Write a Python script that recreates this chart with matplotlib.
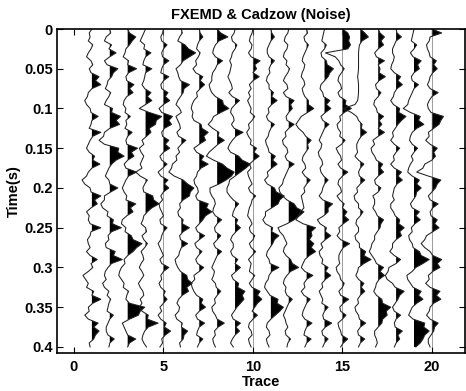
import numpy as np
import matplotlib.pyplot as plt
from matplotlib.ticker import FormatStrFormatter

plt.rcParams['font.family'] = ['Liberation Sans', 'DejaVu Sans']
plt.rcParams['font.weight'] = 'bold'
plt.rcParams['font.size'] = 10.5

# sample times in seconds (5 ms sampling, 0 - 0.4 s)
time = np.round(np.arange(81) * 0.005, 3)

# amplitudes in units of trace spacing.
# *_a: samples at 0, 10, 20 ... ms ; *_b: samples at 5, 15, 25 ... ms
trace_01_a = [0.0, -0.1, 0.05, -0.2, -0.05, -0.15, 0.4, 0.5, -0.2, -0.4,
              -0.1, 0.35, -0.05, 0.5, -0.1, -0.3, 0.15, 0.45, -0.2, -0.55,
              -0.1, 0.5, 0.3, -0.3, -0.2, 0.5, -0.1, -0.2, -0.3, 0.3,
              0.05, -0.5, -0.2, 0.1, 0.5, -0.2, -0.4, 0.35, 0.4, 0.1, -0.1]
trace_01_b = [-0.15, -0.2, -0.05, -0.3, 0.05, -0.05, 0.2, 0.0, -0.25, -0.3,
              -0.05, 0.0, -0.15, 0.05, -0.2, -0.15, 0.05, 0.0, -0.3, -0.4,
              -0.05, 0.15, -0.05, -0.15, -0.1, -0.05, -0.25, -0.1, -0.1, -0.05,
              -0.2, -0.35, -0.3, 0.0, 0.05, -0.15, -0.2, 0.1, 0.2, -0.15]
trace_02_a = [0.0, -0.2, 0.1, 0.35, -0.3, 0.45, 0.1, -0.15, 0.05, -0.2,
              0.15, 0.6, 0.55, -0.3, -0.6, 0.5, 0.8, 0.1, -0.15, -0.05,
              0.45, -0.3, -0.5, -0.1, 0.2, 0.65, -0.1, -0.25, 0.3, 0.7,
              -0.1, -0.3, -0.4, -0.05, 0.05, -0.1, 0.2, -0.1, -0.2, 0.25, -0.05]
trace_02_b = [0.05, -0.3, -0.05, 0.0, -0.15, 0.2, -0.1, -0.25, -0.05, -0.3,
              0.1, 0.35, 0.0, -0.35, -0.3, 0.45, 0.35, -0.05, -0.25, 0.0,
              0.05, -0.3, -0.4, -0.15, 0.15, 0.1, -0.05, -0.2, 0.2, 0.1,
              -0.25, -0.2, -0.3, -0.15, -0.05, -0.15, 0.0, -0.2, -0.1, 0.0]
trace_03_a = [0.0, 0.45, 0.1, -0.15, 0.05, 0.5, -0.1, 0.35, 0.3, -0.2,
              -0.1, 0.15, -0.05, 0.25, -0.1, 0.55, 0.35, -0.2, 0.5, -0.1,
              -0.3, -0.05, 0.45, 0.3, -0.3, -0.1, 0.2, 0.8, 0.3, -0.2,
              -0.35, -0.5, -0.2, 0.05, -0.1, 0.95, 0.6, -0.3, -0.1, 0.45, 0.0]
trace_03_b = [0.1, 0.25, -0.1, -0.25, 0.0, 0.05, -0.05, 0.1, -0.05, -0.25,
              -0.15, -0.1, -0.15, 0.0, -0.05, 0.2, 0.0, -0.1, 0.05, -0.2,
              -0.2, -0.1, 0.15, -0.05, -0.35, -0.15, 0.3, 0.5, 0.0, -0.15,
              -0.45, -0.35, -0.25, -0.05, 0.1, 0.7, 0.1, -0.2, 0.0, 0.1]
trace_04_a = [0.0, -0.2, -0.05, 0.3, -0.1, 0.35, -0.05, -0.2, 0.3, 0.35,
              -0.35, 0.9, 0.55, 0.3, -0.2, -0.35, -0.1, -0.3, -0.55, 0.1,
              -0.15, 0.4, 0.75, 0.1, -0.15, 0.0, -0.2, 0.1, -0.25, -0.1,
              -0.35, -0.1, -0.4, -0.15, -0.3, -0.35, 0.15, 0.7, -0.05, -0.2, 0.05]
trace_04_b = [-0.1, -0.3, -0.1, 0.0, -0.15, 0.0, -0.1, -0.05, 0.1, 0.0,
              0.2, 0.6, 0.2, 0.05, -0.1, -0.25, -0.2, -0.2, -0.3, -0.05,
              -0.1, 0.45, 0.35, -0.1, -0.25, 0.05, -0.1, -0.05, -0.15, -0.25,
              -0.2, -0.25, -0.3, -0.1, -0.2, -0.2, 0.1, 0.15, -0.15, -0.1]
trace_05_a = [0.0, -0.15, 0.2, -0.1, 0.3, -0.1, 0.3, -0.15, 0.25, 0.35,
              -0.25, 0.5, 0.45, -0.1, 0.3, 0.35, -0.2, 0.2, -0.3, 0.25,
              0.3, -0.15, -0.25, -0.1, -0.2, 0.2, -0.1, -0.3, -0.1, -0.2,
              0.3, -0.15, -0.25, 0.1, 0.2, -0.2, -0.3, 0.15, 0.4, -0.1, -0.2]
trace_05_b = [-0.05, -0.1, 0.0, -0.05, 0.0, -0.15, 0.0, -0.1, 0.1, 0.0,
              -0.1, 0.3, 0.05, -0.05, 0.1, 0.0, -0.1, -0.05, -0.15, 0.05,
              0.0, -0.05, -0.2, 0.0, -0.15, 0.0, -0.15, -0.2, 0.0, -0.1,
              0.0, -0.1, -0.15, 0.0, 0.0, -0.1, -0.15, 0.05, 0.1, -0.05]
trace_06_a = [0.0, -0.1, 0.2, 0.8, 0.1, -0.3, -0.15, 0.45, 0.1, -0.2,
              -0.1, -0.3, -0.1, -0.25, 0.25, -0.2, -0.3, -0.5, -0.7, 0.1,
              0.7, 0.45, -0.1, -0.2, 0.1, 0.45, -0.1, 0.35, -0.1, -0.35,
              -0.2, 0.3, 0.6, 0.4, -0.15, -0.1, -0.35, 0.05, 0.35, 0.1, -0.05]
trace_06_b = [0.05, -0.2, 0.4, 0.45, -0.05, -0.2, -0.05, 0.15, -0.05, -0.3,
              0.0, -0.2, -0.05, -0.15, 0.0, -0.1, -0.25, -0.55, -0.4, 0.35,
              0.5, 0.1, -0.05, -0.15, 0.05, 0.1, -0.05, 0.0, -0.15, -0.3,
              -0.05, 0.35, 0.3, 0.05, -0.25, -0.15, -0.25, 0.0, 0.15, -0.1]
trace_07_a = [0.0, 0.2, -0.1, 0.05, -0.2, -0.35, 0.2, 0.3, -0.15, -0.3,
              -0.45, -0.4, 0.1, 0.5, 0.35, -0.3, 0.25, 0.5, -0.1, -0.3,
              -0.1, -0.2, 0.5, 0.7, 0.2, -0.2, 0.3, -0.25, 0.15, -0.2,
              0.25, -0.3, -0.45, -0.3, 0.2, 0.35, -0.2, 0.3, -0.1, 0.2, -0.1]
trace_07_b = [0.05, 0.0, -0.15, -0.05, -0.15, -0.2, 0.05, 0.05, -0.1, -0.4,
              -0.35, -0.3, 0.15, 0.25, 0.0, -0.15, 0.1, 0.1, -0.15, -0.25,
              -0.05, -0.1, 0.4, 0.35, 0.0, -0.1, 0.0, -0.15, -0.05, -0.1,
              0.0, -0.25, -0.4, -0.15, 0.1, 0.0, -0.1, 0.0, -0.15, 0.0]
trace_08_a = [0.0, 0.6, -0.1, -0.25, 0.3, -0.1, -0.3, -0.45, -0.3, 0.3,
              0.65, -0.2, -0.5, 0.1, 0.4, -0.2, -0.6, 0.3, 0.95, 0.5,
              -0.4, -0.3, -0.1, -0.25, 0.25, -0.15, 0.2, -0.2, 0.25, -0.1,
              -0.3, -0.2, -0.1, 0.2, -0.15, -0.3, -0.1, 0.4, -0.15, -0.25, -0.1]
trace_08_b = [0.2, 0.1, -0.2, -0.1, 0.0, -0.25, -0.3, -0.4, -0.1, 0.35,
              0.2, -0.3, -0.25, 0.05, 0.05, -0.45, -0.2, 0.55, 0.8, 0.1,
              -0.4, -0.15, -0.2, -0.1, 0.0, -0.1, 0.0, -0.1, 0.0, -0.2,
              -0.15, -0.3, -0.05, 0.0, -0.1, -0.25, 0.0, 0.05, -0.1, -0.2]
trace_09_a = [0.0, -0.2, 0.1, -0.15, -0.3, -0.25, -0.4, -0.2, -0.35, 0.25,
              -0.2, -0.1, -0.2, 0.45, -0.15, -0.4, 0.2, 0.85, 0.3, -0.3,
              -0.45, -0.3, 0.2, -0.1, 0.15, 0.3, -0.15, -0.1, -0.25, 0.15,
              0.3, -0.2, 0.2, 0.55, 0.5, 0.1, -0.2, 0.3, 0.25, -0.15, -0.1]
trace_09_b = [-0.05, -0.15, 0.0, -0.2, -0.2, -0.3, -0.3, -0.15, -0.15, 0.0,
              -0.25, -0.05, -0.05, 0.05, -0.3, -0.25, 0.4, 0.6, 0.0, -0.35,
              -0.45, -0.1, 0.0, -0.15, 0.05, 0.05, -0.25, -0.1, -0.15, 0.0,
              0.05, -0.1, 0.15, 0.4, 0.3, -0.05, -0.1, 0.05, 0.0, -0.25]
trace_10_a = [0.0, -0.15, -0.05, -0.25, 0.4, 0.2, 0.35, -0.2, -0.25, -0.3,
              -0.1, 0.1, -0.25, -0.35, -0.1, 0.2, 0.35, -0.2, -0.3, -0.15,
              -0.25, 0.15, -0.1, -0.25, -0.15, -0.2, 0.1, -0.2, 0.15, -0.25,
              -0.15, 0.1, -0.2, 0.4, 0.5, 0.1, 0.25, -0.2, -0.1, -0.25, -0.1]
trace_10_b = [-0.05, -0.2, -0.1, -0.1, 0.1, 0.0, 0.0, -0.1, -0.15, -0.2,
              -0.15, -0.05, -0.2, -0.25, -0.15, 0.05, 0.05, -0.1, -0.25, -0.05,
              -0.15, -0.05, -0.2, -0.3, -0.05, -0.15, 0.0, -0.1, -0.05, -0.1,
              -0.2, -0.05, -0.05, 0.25, 0.25, -0.05, 0.0, -0.25, -0.05, -0.2]
trace_11_a = [0.0, 0.2, -0.1, -0.2, 0.2, -0.1, -0.2, -0.1, 0.15, 0.35,
              -0.15, -0.25, 0.2, -0.1, -0.3, -0.15, 0.25, 0.35, -0.2, -0.35,
              0.2, 0.75, 0.4, -0.3, -0.45, 0.1, 0.45, 0.1, -0.2, -0.1,
              0.45, -0.1, -0.3, -0.2, 0.4, 0.7, 0.25, -0.2, -0.1, -0.25, -0.1]
trace_11_b = [0.05, 0.0, -0.2, -0.1, 0.0, -0.05, -0.25, -0.1, 0.05, 0.05,
              -0.1, -0.15, 0.0, -0.15, -0.25, -0.1, 0.1, 0.05, -0.15, -0.2,
              0.3, 0.5, 0.05, -0.3, -0.3, 0.05, 0.2, -0.05, -0.25, -0.05,
              0.05, -0.15, -0.35, -0.05, 0.35, 0.5, 0.0, -0.25, -0.05, -0.2]
trace_12_a = [0.0, -0.2, -0.05, -0.25, -0.1, 0.05, -0.2, -0.1, -0.3, 0.3,
              0.2, -0.15, 0.3, -0.2, -0.35, -0.1, -0.2, 0.3, -0.1, -0.3,
              -0.55, -0.35, 0.3, 0.85, 0.3, -0.6, -0.3, -0.1, -0.3, 0.1,
              0.55, -0.1, -0.3, -0.2, 0.2, -0.1, -0.3, -0.15, -0.2, 0.1, -0.1]
trace_12_b = [-0.05, -0.25, -0.1, -0.3, -0.15, -0.05, -0.3, -0.05, -0.15, 0.1,
              0.0, -0.1, 0.0, -0.15, -0.3, -0.05, -0.1, 0.0, -0.2, -0.35,
              -0.5, -0.1, 0.45, 0.6, -0.1, -0.5, -0.2, -0.25, -0.15, 0.2,
              0.1, -0.25, -0.15, -0.1, 0.0, -0.2, -0.2, -0.05, -0.15, -0.05]
trace_13_a = [0.0, -0.15, 0.1, -0.1, -0.25, -0.15, -0.3, -0.1, -0.2, 0.1,
              0.4, -0.3, -0.6, -0.2, 0.25, 0.1, -0.2, -0.1, -0.25, 0.2,
              -0.15, -0.3, -0.2, -0.35, -0.6, 0.5, 0.3, 0.4, 0.5, -0.1,
              -0.3, 0.35, -0.15, -0.3, 0.2, -0.1, -0.25, 0.3, -0.1, 0.25, -0.1]
trace_13_b = [0.05, -0.1, 0.0, -0.2, -0.1, -0.25, -0.15, -0.25, -0.1, 0.1,
              0.05, -0.45, -0.45, -0.05, 0.05, -0.05, -0.25, -0.05, -0.1, 0.0,
              -0.1, -0.25, -0.15, -0.45, -0.2, 0.25, 0.15, 0.25, 0.15, -0.2,
              -0.1, 0.0, -0.1, -0.15, 0.0, -0.2, -0.1, 0.0, -0.15, 0.0]
trace_14_a = [0.0, -0.1, 0.1, -0.2, 0.1, 0.5, 0.2, -0.2, -0.1, 0.3,
              0.35, -0.2, 0.25, -0.1, -0.3, -0.2, -0.3, -0.1, -0.2, 0.2,
              -0.1, -0.3, 0.45, 0.2, -0.4, 0.1, 0.35, -0.2, -0.3, -0.1,
              0.2, 0.35, -0.15, -0.3, -0.1, 0.2, -0.1, 0.4, -0.15, 0.2, -0.1]
trace_14_b = [-0.05, -0.15, 0.0, -0.15, 0.15, 0.3, 0.0, -0.25, -0.05, 0.1,
              0.05, -0.1, 0.0, -0.2, -0.15, -0.35, -0.15, -0.25, -0.05, 0.0,
              -0.15, -0.1, 0.2, -0.05, -0.25, 0.05, 0.05, -0.1, -0.25, -0.15,
              0.05, 0.05, -0.1, -0.2, -0.15, 0.0, -0.05, 0.05, -0.1, 0.0]
trace_15_a = [0.0, 0.4, 0.45, -0.95, -0.2, 0.1, -0.2, -0.1, -0.25, 0.2,
              0.5, -0.15, -0.3, -0.1, 0.15, -0.35, -0.1, -0.25, 0.3, -0.2,
              -0.1, -0.3, 0.1, 0.25, 0.35, -0.2, -0.3, 0.4, -0.1, -0.2,
              -0.35, -0.15, 0.1, -0.2, 0.35, -0.15, 0.2, -0.25, -0.1, 0.3, -0.1]
trace_15_b = [0.3, 0.35, 0.3, -0.4, -0.1, -0.05, -0.25, -0.05, -0.15, 0.15,
              0.1, -0.1, -0.25, -0.15, -0.05, -0.25, -0.05, -0.1, 0.0, -0.25,
              -0.05, -0.15, 0.0, 0.1, 0.05, -0.15, -0.1, 0.05, -0.2, -0.15,
              -0.3, -0.1, 0.0, -0.1, 0.05, -0.1, 0.0, -0.2, -0.05, 0.05]
trace_16_a = [0.0, 0.45, -0.05, -0.1, -0.1, -0.1, -0.15, -0.1, -0.1, -0.15,
              -0.95, -0.2, 0.1, 0.35, -0.1, -0.2, -0.3, 0.2, -0.1, 0.25,
              -0.2, -0.35, -0.1, 0.15, -0.2, -0.1, -0.3, -0.05, 0.3, 0.6,
              -0.1, -0.25, 0.2, 0.25, -0.15, -0.3, -0.1, 0.3, -0.15, 0.25, -0.1]
trace_16_b = [0.25, 0.1, -0.08, -0.1, -0.1, -0.12, -0.12, -0.1, -0.12, -0.3,
              -0.5, -0.1, 0.05, 0.05, -0.2, -0.15, -0.1, 0.0, -0.05, 0.0,
              -0.15, -0.3, -0.1, 0.0, -0.25, -0.1, -0.25, -0.05, 0.2, 0.2,
              -0.15, -0.1, 0.05, 0.0, -0.1, -0.25, -0.05, 0.0, -0.1, 0.0]
trace_17_a = [0.0, 0.35, 0.3, -0.2, 0.35, 0.1, 0.4, -0.15, 0.15, -0.2,
              -0.1, 0.3, 0.2, 0.35, -0.3, -0.4, -0.2, 0.25, 0.3, -0.2,
              0.15, -0.3, -0.2, -0.15, 0.3, 0.1, -0.2, -0.35, -0.5, -0.2,
              0.3, 0.35, -0.1, -0.25, 0.2, 0.7, 0.5, 0.2, -0.2, -0.1, -0.15]
trace_17_b = [0.1, 0.15, 0.0, -0.1, 0.0, 0.05, 0.05, -0.1, 0.0, -0.25,
              -0.05, 0.05, 0.0, 0.0, -0.2, -0.35, -0.1, 0.1, 0.0, -0.15,
              0.0, -0.2, -0.3, -0.05, 0.15, -0.05, -0.2, -0.4, -0.35, -0.1,
              0.1, 0.05, -0.15, -0.1, 0.25, 0.45, 0.25, 0.0, -0.2, -0.05]
trace_18_a = [0.0, 0.3, -0.1, -0.2, -0.15, -0.3, 0.25, 0.35, -0.1, -0.3,
              0.2, 0.55, 0.1, -0.2, -0.3, 0.2, -0.15, -0.3, 0.3, 0.35,
              -0.1, -0.2, -0.3, -0.15, 0.2, 0.45, 0.3, -0.2, -0.35, 0.25,
              -0.4, -0.6, -0.2, 0.45, 0.1, -0.2, 0.25, -0.1, 0.35, 0.2, -0.1]
trace_18_b = [0.05, 0.0, -0.2, -0.1, -0.25, -0.1, 0.1, 0.05, -0.15, -0.15,
              0.15, 0.3, -0.05, -0.15, -0.1, 0.0, -0.1, -0.1, 0.1, 0.05,
              -0.15, -0.1, -0.3, -0.05, 0.15, 0.2, 0.0, -0.2, -0.1, 0.0,
              -0.45, -0.5, -0.05, 0.2, -0.05, -0.1, 0.0, -0.05, 0.1, 0.0]
trace_19_a = [0.0, -0.1, 0.15, -0.2, 0.4, 0.3, -0.15, 0.25, -0.1, -0.3,
              -0.6, 0.35, 0.55, -0.1, -0.25, 0.2, -0.15, -0.2, -0.35, 0.3,
              0.4, 0.1, -0.2, 0.3, 0.35, -0.15, -0.3, -0.1, 0.3, 0.85,
              0.1, -0.4, -0.2, 0.4, 0.5, -0.1, -0.3, 0.6, 0.85, 0.5, 0.1]
trace_19_b = [-0.05, -0.15, 0.0, -0.05, 0.2, 0.0, -0.1, 0.0, -0.2, -0.35,
              -0.2, 0.25, 0.15, -0.2, -0.1, 0.0, -0.05, -0.3, -0.1, 0.15,
              0.15, -0.05, -0.1, 0.1, 0.05, -0.1, -0.25, -0.05, 0.4, 0.5,
              -0.1, -0.35, -0.05, 0.25, 0.15, -0.2, -0.05, 0.55, 0.6, 0.35]
trace_20_a = [0.0, -0.1, -0.3, -0.15, 0.25, 0.3, -0.1, -0.25, 0.35, -0.15,
              -0.2, 0.65, 0.4, -0.2, -0.35, 0.3, 0.2, -0.4, -0.85, 0.5,
              0.2, -0.2, 0.35, -0.1, 0.3, 0.4, -0.3, -0.6, -0.1, 0.55,
              0.45, -0.2, -0.35, 0.45, 0.5, -0.1, -0.3, 0.35, 0.1, -0.2, -0.1]
trace_20_b = [0.55, -0.15, -0.25, -0.1, 0.1, 0.05, -0.15, -0.1, 0.0, -0.25,
              -0.05, 0.5, 0.1, -0.15, -0.1, 0.1, 0.0, -0.5, -0.2, 0.3,
              0.0, -0.1, 0.05, -0.05, 0.15, 0.05, -0.4, -0.4, 0.05, 0.3,
              0.05, -0.15, -0.1, 0.25, 0.1, -0.15, -0.1, 0.15, -0.05, -0.2]

traces = [(trace_01_a, trace_01_b), (trace_02_a, trace_02_b),
          (trace_03_a, trace_03_b), (trace_04_a, trace_04_b),
          (trace_05_a, trace_05_b), (trace_06_a, trace_06_b),
          (trace_07_a, trace_07_b), (trace_08_a, trace_08_b),
          (trace_09_a, trace_09_b), (trace_10_a, trace_10_b),
          (trace_11_a, trace_11_b), (trace_12_a, trace_12_b),
          (trace_13_a, trace_13_b), (trace_14_a, trace_14_b),
          (trace_15_a, trace_15_b), (trace_16_a, trace_16_b),
          (trace_17_a, trace_17_b), (trace_18_a, trace_18_b),
          (trace_19_a, trace_19_b), (trace_20_a, trace_20_b)]

# traces whose zero line shows through
baseline_traces = [5, 10, 15, 20]


def merge(on_grid, half_way):
    amp = np.empty(len(on_grid) + len(half_way))
    amp[0::2] = on_grid
    amp[1::2] = half_way
    return amp


fig = plt.figure(figsize=(4.66, 3.91), dpi=100)
ax = fig.add_axes([57 / 466, 1 - 353 / 391, 408 / 466, 324 / 391])

for k in baseline_traces:
    ax.plot([k, k], [time[0], time[-1]], color='#666666', linewidth=0.45)

# variable-area wiggle display: black fill on positive lobes
for k, (a, b) in enumerate(traces, start=1):
    amp = merge(a, b)
    ax.fill_betweenx(time, k, k + amp, where=amp > 0, interpolate=True,
                     color='black', linewidth=0)
    ax.plot(k + amp, time, color='#222222', linewidth=0.75)

ax.set_xlim(-0.95, 21.85)
ax.set_ylim(0.4076, 0)
ax.set_xticks([0, 5, 10, 15, 20])
ax.set_yticks(np.round(np.arange(0, 0.41, 0.05), 2))
ax.yaxis.set_major_formatter(FormatStrFormatter('%g'))
ax.tick_params(direction='in', top=True, right=True, length=4, width=0.8,
               labelsize=10.5)
ax.tick_params(axis='x', pad=5)
ax.tick_params(axis='y', pad=3)
for sp in ax.spines.values():
    sp.set_linewidth(1.2)

ax.set_title('FXEMD & Cadzow (Noise)', fontsize=10.5, fontweight='bold', pad=7)
ax.set_xlabel('Trace', fontweight='bold', labelpad=1)
ax.set_ylabel('Time(s)', fontweight='bold', labelpad=2)

fig.savefig('out.png', dpi=100)
